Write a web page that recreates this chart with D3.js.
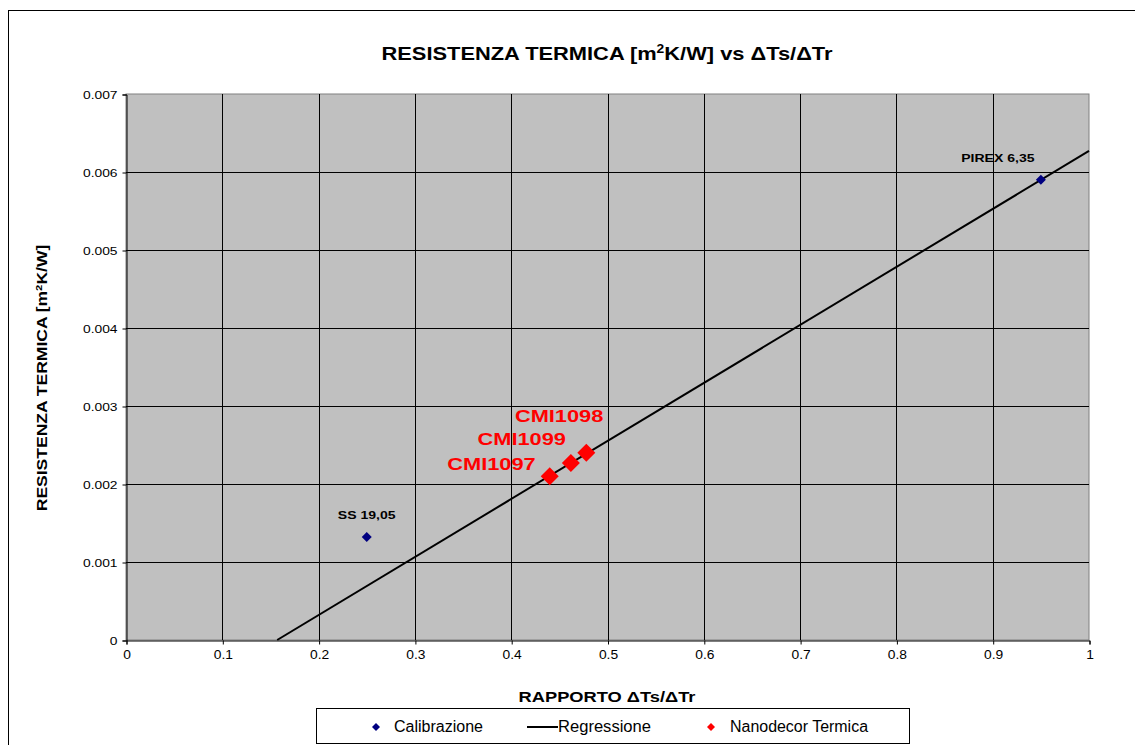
<!DOCTYPE html>
<html>
<head>
<meta charset="utf-8">
<script src="https://cdn.jsdelivr.net/npm/d3@7"></script>
<style>
  body { margin: 0; background: #fff; }
  text { font-family: "Liberation Sans", Arial, sans-serif; }
</style>
</head>
<body>
<svg id="chart" width="1135" height="745"></svg>
<script>
// calibration samples
const calibX = [0.25, 0.95];
const calibY = [0.00132, 0.0059];
const calibLabels = ['SS 19,05', 'PIREX 6,35'];

// Nanodecor samples
const nanoX = [0.440, 0.462, 0.478];
const nanoY = [0.00210, 0.00227, 0.00240];
const nanoLabels = ['CMI1097', 'CMI1099', 'CMI1098'];

// regression line end points
const regX = [0.157, 1];
const regY = [0, 0.00627];

const xTicks = [0, 0.1, 0.2, 0.3, 0.4, 0.5, 0.6, 0.7, 0.8, 0.9, 1];
const yTicks = [0, 0.001, 0.002, 0.003, 0.004, 0.005, 0.006, 0.007];

const plot = {left: 126, top: 94, right: 1089, bottom: 640};

// the original text is drawn a bit wider than the font, stretch it
const stretch = (sel, k) => sel.each(function () {
    const w = this.getComputedTextLength();
    d3.select(this).attr('textLength', w * k).attr('lengthAdjust', 'spacingAndGlyphs');
});

const svg = d3.select('#chart');

// outer frame
svg.append('rect')
    .attr('x', 8.5).attr('y', 10.5)
    .attr('width', 1140).attr('height', 760)
    .attr('fill', 'white').attr('stroke', 'black').attr('stroke-width', 1);

const x = d3.scaleLinear().domain([0, 1]).range([plot.left, plot.right]);
const y = d3.scaleLinear().domain([0, 0.007]).range([plot.bottom, plot.top]);

svg.append('rect')
    .attr('x', plot.left).attr('y', plot.top)
    .attr('width', plot.right - plot.left).attr('height', plot.bottom - plot.top)
    .attr('fill', '#c0c0c0')
    .attr('stroke', '#808080');

// grid
const grid = svg.append('g');
grid.selectAll('.vg').data(xTicks.slice(1, -1)).join('line')
    .attr('x1', d => Math.round(x(d)) + 0.5).attr('x2', d => Math.round(x(d)) + 0.5)
    .attr('y1', plot.top).attr('y2', plot.bottom)
    .attr('stroke', 'black').attr('stroke-width', 1);
grid.selectAll('.hg').data(yTicks.slice(1, -1)).join('line')
    .attr('y1', d => Math.round(y(d)) + 0.5).attr('y2', d => Math.round(y(d)) + 0.5)
    .attr('x1', plot.left).attr('x2', plot.right)
    .attr('stroke', 'black').attr('stroke-width', 1);

// axes
const xAxis = d3.axisBottom(x).tickValues(xTicks).tickSize(4).tickPadding(6)
    .tickFormat(d => d === 0 || d === 1 ? d3.format('d')(d) : d3.format('.1f')(d));
const gx = svg.append('g').attr('transform', `translate(0.5, ${plot.bottom + 0.5})`).call(xAxis);
gx.select('.domain').attr('stroke', 'black');
gx.selectAll('text').style('font-size', '12px').attr('fill', 'black').call(stretch, 1.15);

const yAxis = d3.axisLeft(y).tickValues(yTicks).tickSize(4).tickPadding(5)
    .tickFormat(d => d === 0 ? '0' : d3.format('.3f')(d));
const gy = svg.append('g').attr('transform', `translate(${plot.left + 0.5}, 0.5)`).call(yAxis);
gy.select('.domain').attr('stroke', 'black');
gy.selectAll('text').style('font-size', '11.5px').attr('fill', 'black').call(stretch, 1.2);

// regression
const line = d3.line().x(d => x(d[0])).y(d => y(d[1]));
svg.append('path')
    .datum(d3.zip(regX, regY))
    .attr('d', line)
    .attr('fill', 'none').attr('stroke', 'black').attr('stroke-width', 2);

const diam = (r) => `M0,${-r}L${r},0L0,${r}L${-r},0Z`;

// calibration points
svg.selectAll('.calib').data(d3.zip(calibX, calibY)).join('path')
    .attr('d', diam(5))
    .attr('transform', d => `translate(${x(d[0])},${y(d[1])})`)
    .attr('fill', '#000080');
const calibOffset = [0, -43];
svg.selectAll('.calibLbl').data(d3.zip(calibX, calibY, calibLabels)).join('text')
    .attr('x', (d, i) => x(d[0]) + calibOffset[i]).attr('y', d => y(d[1]) - 18)
    .attr('text-anchor', 'middle')
    .style('font-size', '11.5px').style('font-weight', 'bold')
    .attr('fill', 'black')
    .text(d => d[2])
    .call(stretch, 1.22);

// nanodecor points
svg.selectAll('.nano').data(d3.zip(nanoX, nanoY)).join('path')
    .attr('d', diam(9))
    .attr('transform', d => `translate(${x(d[0])},${y(d[1])})`)
    .attr('fill', '#ff0000');
const nanoOffset = [[-14, -6], [-5, -18], [17, -31]];
svg.selectAll('.nanoLbl').data(d3.zip(nanoX, nanoY, nanoLabels)).join('text')
    .attr('x', (d, i) => x(d[0]) + nanoOffset[i][0])
    .attr('y', (d, i) => y(d[1]) + nanoOffset[i][1])
    .attr('text-anchor', 'end')
    .style('font-size', '16.5px').style('font-weight', 'bold')
    .attr('fill', '#ff0000')
    .text(d => d[2])
    .call(stretch, 1.32);

// title
const title = svg.append('text')
    .attr('x', 607).attr('y', 60)
    .attr('text-anchor', 'middle')
    .style('font-size', '19px').style('font-weight', 'bold');
title.append('tspan').text('RESISTENZA TERMICA [m');
title.append('tspan').text('2').attr('dy', -7).style('font-size', '12px');
title.append('tspan').text('K/W] vs ΔTs/ΔTr').attr('dy', 7);
title.selectAll('tspan').call(stretch, 1.15);

// axis titles
svg.append('text')
    .attr('x', 607).attr('y', 702)
    .attr('text-anchor', 'middle')
    .style('font-size', '14.5px').style('font-weight', 'bold')
    .text('RAPPORTO ΔTs/ΔTr')
    .call(stretch, 1.26);

const yt = svg.append('text')
    .attr('transform', 'translate(47, 378) rotate(-90)')
    .attr('text-anchor', 'middle')
    .style('font-size', '14px').style('font-weight', 'bold');
yt.append('tspan').text('RESISTENZA TERMICA [m');
yt.append('tspan').text('2').attr('dy', -5).style('font-size', '9px');
yt.append('tspan').text('K/W]').attr('dy', 5);
yt.selectAll('tspan').call(stretch, 1.25);

// legend
const leg = svg.append('g');
leg.append('rect')
    .attr('x', 316.5).attr('y', 708.5).attr('width', 593).attr('height', 35)
    .attr('fill', 'white').attr('stroke', 'black');
leg.append('path').attr('d', diam(4)).attr('transform', 'translate(376,727)').attr('fill', '#000080');
leg.append('line').attr('x1', 527).attr('x2', 558).attr('y1', 727).attr('y2', 727)
    .attr('stroke', 'black').attr('stroke-width', 2);
leg.append('path').attr('d', diam(4)).attr('transform', 'translate(711,727)').attr('fill', '#ff0000');
const legText = [['Calibrazione', 394, 89], ['Regressione', 558, 93], ['Nanodecor Termica', 730, 138]];
leg.selectAll('.lt').data(legText).join('text')
    .attr('x', d => d[1]).attr('y', 732)
    .style('font-size', '16px')
    .attr('textLength', d => d[2]).attr('lengthAdjust', 'spacingAndGlyphs')
    .text(d => d[0]);
</script>
</body>
</html>
